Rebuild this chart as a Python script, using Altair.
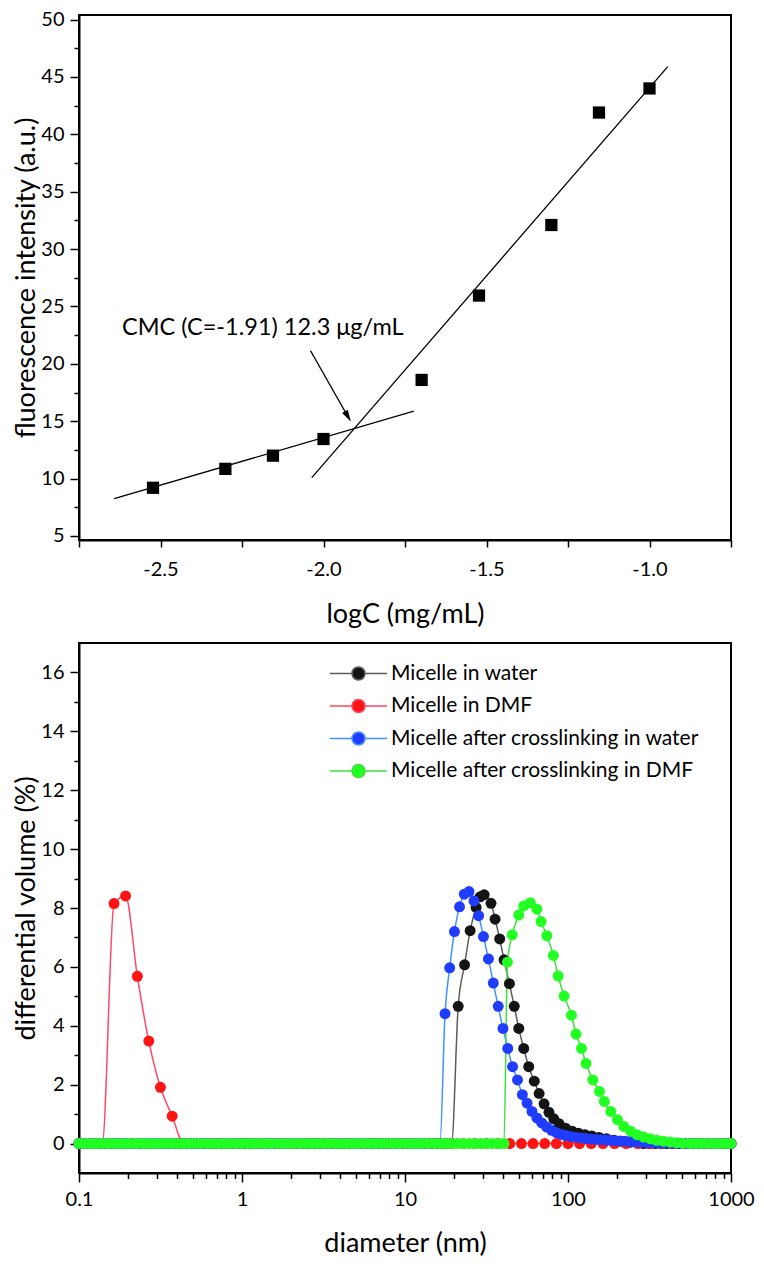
import altair as alt
import pandas as pd

FONT = "Lato"

# ---------------- Panel A: fluorescence intensity vs logC ----------------
log_conc = [-2.523, -2.301, -2.155, -2.000, -1.699, -1.523, -1.301, -1.155, -1.000]
fluorescence = [9.2, 10.85, 12.0, 13.45, 18.6, 25.95, 32.1, 41.9, 44.0]

fit_name = ["below CMC", "below CMC", "above CMC", "above CMC"]
fit_logc = [-2.642, -1.723, -2.036, -0.944]
fit_value = [8.26, 15.87, 10.08, 45.9]

arrow_logc = [-2.040, -1.925]
arrow_value = [21.15, 15.40]

cmc_text = ["CMC (C=-1.91) 12.3 \u03bcg/mL"]
cmc_text_logc = [-2.618]
cmc_text_value = [23.1]

x_ticks_a = [-2.75, -2.5, -2.25, -2.0, -1.75, -1.5, -1.25, -1.0, -0.75]
y_major_a = [5, 10, 15, 20, 25, 30, 35, 40, 45, 50]
y_minor_a = [7.5, 12.5, 17.5, 22.5, 27.5, 32.5, 37.5, 42.5, 47.5]

# ---------------- Panel B: DLS size distributions ----------------
series_names = ["Micelle in water", "Micelle in DMF",
                "Micelle after crosslinking in water",
                "Micelle after crosslinking in DMF"]
dot_colors = ["#141414", "#ff1414", "#1f3cff", "#22ff22"]
line_colors = ["#5c5c5c", "#ff4766", "#3f93ff", "#3fe03f"]

# instrument size bins (log spaced, 28 per decade), used for the zero baseline dots
bin_mantissa = [1.000, 1.086, 1.179, 1.280, 1.389, 1.509, 1.638, 1.778, 1.931,
                2.096, 2.276, 2.471, 2.683, 2.913, 3.162, 3.433, 3.728, 4.047,
                4.394, 4.771, 5.179, 5.623, 6.105, 6.629, 7.197, 7.814, 8.483, 9.211]
bin_decades = [0.1, 1, 10, 100]

water_d = [21.2, 23.2, 25.1, 27.3, 28.9, 30.6, 33.7, 35.7, 38.1, 40.5, 43.7, 46.8,
           49.9, 53.5, 57.4, 62.1, 66.5, 71.3, 76.4, 81.8, 88.3, 96.6, 106, 116,
           127, 140, 155, 172, 191, 214, 240, 269]
water_v = [4.66, 6.07, 7.23, 8.02, 8.38, 8.45, 8.16, 7.62, 6.95, 6.24, 5.43, 4.66,
           3.91, 3.23, 2.61, 2.12, 1.70, 1.35, 1.06, 0.84, 0.67, 0.52, 0.42, 0.35,
           0.30, 0.26, 0.21, 0.16, 0.11, 0.07, 0.04, 0.02]

dmf_d = [0.164, 0.193, 0.228, 0.268, 0.316, 0.373]
dmf_v = [8.15, 8.41, 5.68, 3.48, 1.91, 0.93]

xwater_d = [17.6, 18.8, 20.1, 21.6, 23.1, 24.7, 26.5, 28.3, 30.3, 32.5, 34.8, 37.3,
            39.9, 42.7, 45.7, 49.0, 52.5, 56.1, 60.1, 64.4, 69.0, 74.0, 79.3, 84.9,
            91.0, 97.5, 104, 112, 120, 129, 138, 148, 158, 170, 182, 195, 209, 224,
            240, 257, 275, 295, 316, 339, 363, 389, 417, 447, 479]
xwater_v = [4.41, 5.97, 7.20, 8.04, 8.47, 8.56, 8.24, 7.74, 7.03, 6.27, 5.45, 4.66,
            3.91, 3.23, 2.61, 2.16, 1.66, 1.37, 1.09, 0.87, 0.70, 0.56, 0.45, 0.37,
            0.31, 0.27, 0.24, 0.21, 0.19, 0.17, 0.15, 0.14, 0.13, 0.12, 0.11, 0.10,
            0.09, 0.08, 0.07, 0.06, 0.05, 0.04, 0.035, 0.03, 0.025, 0.02, 0.015,
            0.01, 0.005]

xdmf_d = [42.5, 45.5, 49.9, 53.5, 58.7, 64.4, 68.4, 74.1, 81.3, 87.1, 94.6, 105,
          112, 121, 129, 142, 156, 167, 183, 201, 220, 242, 265, 291, 320, 351,
          385, 423, 463, 508]
xdmf_v = [6.16, 7.09, 7.76, 8.07, 8.18, 7.96, 7.54, 7.06, 6.39, 5.69, 5.01, 4.36,
          3.72, 3.23, 2.72, 2.16, 1.77, 1.43, 1.09, 0.81, 0.58, 0.42, 0.30, 0.22,
          0.16, 0.11, 0.08, 0.05, 0.03, 0.01]

x_major_b = [0.1, 1, 10, 100, 1000]
x_minor_b = [0.2, 0.3, 0.4, 0.5, 0.6, 0.7, 0.8, 0.9, 2, 3, 4, 5, 6, 7, 8, 9,
             20, 30, 40, 50, 60, 70, 80, 90, 200, 300, 400, 500, 600, 700, 800, 900]
y_major_b = [0, 2, 4, 6, 8, 10, 12, 14, 16]
y_minor_b = [1, 3, 5, 7, 9, 11, 13, 15]

# ---------------- build tables ----------------
pts_a = pd.DataFrame({"logc": log_conc, "f": fluorescence})
fit_a = pd.DataFrame({"seg": fit_name, "logc": fit_logc, "f": fit_value})
arr_a = pd.DataFrame({"logc": arrow_logc, "f": arrow_value})
head_a = arr_a.tail(1)
lab_a = pd.DataFrame({"logc": cmc_text_logc, "f": cmc_text_value, "t": cmc_text})

size_bins = [round(m * d, 5) for d in bin_decades for m in bin_mantissa] + [1000.0]


def series_rows(name, d, v, bins):
    rows = [(b, 0.0) for b in bins if b < d[0] * 0.97 or b > d[-1] * 1.03]
    rows += list(zip(d, v))
    rows.sort()
    return [{"d": a, "v": b, "series": name} for a, b in rows]


rows = []
rows += series_rows(series_names[0], water_d, water_v, size_bins)
rows += series_rows(series_names[1], dmf_d, dmf_v, size_bins[::2])
rows += series_rows(series_names[2], xwater_d, xwater_v, size_bins)
rows += series_rows(series_names[3], xdmf_d, xdmf_v, size_bins)
dls = pd.DataFrame(rows)

PLOT_W = 652

# ---------------- panel A chart ----------------
sx_a = alt.Scale(domain=[-2.75, -0.75], nice=False, zero=False)
sy_a = alt.Scale(domain=[4.65, 50.4], nice=False, zero=False)

axis_xa = alt.Axis(
    title="logC (mg/mL)", values=x_ticks_a, orient="bottom",
    labelExpr="abs(datum.value*2 - round(datum.value*2)) < 0.01 ? "
              "(datum.value < 0 ? '-' : '') + format(abs(datum.value), '.1f') : ''",
    tickSize=7, labelPadding=12, titlePadding=22, labelFlush=False)
axis_ya = alt.Axis(
    title="fluorescence intensity (a.u.)", values=y_major_a, orient="left",
    format="d", tickSize=9, labelPadding=6, titlePadding=0)
axis_ya_minor = alt.Axis(
    title=None, values=y_minor_a, orient="left", labels=False, domain=False,
    tickSize=5)

xa = alt.X("logc:Q", scale=sx_a, axis=axis_xa)
ya = alt.Y("f:Q", scale=sy_a, axis=axis_ya)
xa0 = alt.X("logc:Q", scale=sx_a, axis=None)
ya0 = alt.Y("f:Q", scale=sy_a, axis=None)
ya_minor = alt.Y("f:Q", scale=sy_a, axis=axis_ya_minor)

layer_fit = alt.Chart(fit_a).mark_line(color="black", strokeWidth=1.3).encode(
    x=xa0, y=ya0, detail="seg:N")
layer_arrow = alt.Chart(arr_a).mark_line(color="black", strokeWidth=1.2).encode(x=xa0, y=ya0)
layer_head = alt.Chart(head_a).mark_point(
    shape="M0,1L-0.55,-1L0.55,-1Z", angle=330, size=144, filled=True,
    color="black", opacity=1).encode(x=xa0, y=ya0)
layer_pts = alt.Chart(pts_a).mark_point(shape="square", filled=True, size=150,
                                        color="black", opacity=1).encode(x=xa, y=ya)
layer_minor_a = alt.Chart(pts_a).mark_point(opacity=0).encode(x=xa0, y=ya_minor)
layer_text = alt.Chart(lab_a).mark_text(
    align="left", baseline="middle", font=FONT, fontSize=23.5, color="black").encode(
    x=xa0, y=ya0, text="t:N")

panel_a = alt.layer(layer_fit, layer_arrow, layer_head, layer_pts, layer_minor_a,
                    layer_text).resolve_axis(x="independent", y="independent").properties(
    width=PLOT_W, height=525)

# ---------------- panel B chart ----------------
sx_b = alt.Scale(type="log", domain=[0.1, 1000], nice=False)
sy_b = alt.Scale(domain=[-1, 17], nice=False, zero=False)

axis_xb = alt.Axis(
    title="diameter (nm)", values=x_major_b, orient="bottom", format="~g",
    tickSize=9, labelPadding=7, titlePadding=21, labelFlush=False)
axis_xb_minor = alt.Axis(
    title=None, values=x_minor_b, orient="bottom", labels=False, domain=False,
    tickSize=5.5)
axis_yb = alt.Axis(
    title="differential volume (%)", values=y_major_b, orient="left", format="d",
    tickSize=9, labelPadding=6, titlePadding=0)
axis_yb_minor = alt.Axis(
    title=None, values=y_minor_b, orient="left", labels=False, domain=False,
    tickSize=5)

xb = alt.X("d:Q", scale=sx_b, axis=axis_xb)
yb = alt.Y("v:Q", scale=sy_b, axis=axis_yb)
xb0 = alt.X("d:Q", scale=sx_b, axis=None)
yb0 = alt.Y("v:Q", scale=sy_b, axis=None)
xb_minor = alt.X("d:Q", scale=sx_b, axis=axis_xb_minor)
yb_minor = alt.Y("v:Q", scale=sy_b, axis=axis_yb_minor)

# the legend of a concatenated chart is placed relative to the whole chart
legend_path = "M-4.4,0H-1.1M1.1,0H4.4M1,0A1,1,0,1,1,-1,0A1,1,0,1,1,1,0Z"
legend_kw = dict(title=None, orient="none", legendX=269, legendY=648,
                 symbolType=legend_path, symbolSize=169, symbolStrokeWidth=1.5,
                 labelFont=FONT, labelFontSize=21, labelColor="black",
                 labelOffset=22, rowPadding=10.5, padding=0, labelLimit=0,
                 direction="vertical")

layer_lines = alt.Chart(dls).mark_line(interpolate="monotone", strokeWidth=1.5).encode(
    x=xb, y=yb,
    stroke=alt.Stroke("series:N", scale=alt.Scale(domain=series_names, range=line_colors),
                      legend=alt.Legend(**legend_kw)))
layer_dots = alt.Chart(dls).mark_circle(size=120, opacity=1).encode(
    x=xb0, y=yb0,
    fill=alt.Fill("series:N", scale=alt.Scale(domain=series_names, range=dot_colors),
                  legend=alt.Legend(**legend_kw)))
layer_minor_b = alt.Chart(dls).mark_point(opacity=0).encode(x=xb_minor, y=yb_minor)

panel_b = alt.layer(layer_lines, layer_dots, layer_minor_b).resolve_axis(
    x="independent", y="independent").properties(width=PLOT_W, height=530)

chart = alt.vconcat(panel_a, panel_b, spacing=14).properties(
    padding={"left": 3, "top": 0, "right": 0, "bottom": 0}
).configure_axis(
    labelFont=FONT, titleFont=FONT, labelFontSize=20, titleFontSize=27,
    titleFontWeight="normal", labelColor="black", titleColor="black",
    tickColor="black", domainColor="black", domainWidth=2, tickWidth=1.5, grid=False
).configure_view(stroke="black", strokeWidth=2)

chart.save("out.html", embed_options={"renderer": "svg", "actions": False})
